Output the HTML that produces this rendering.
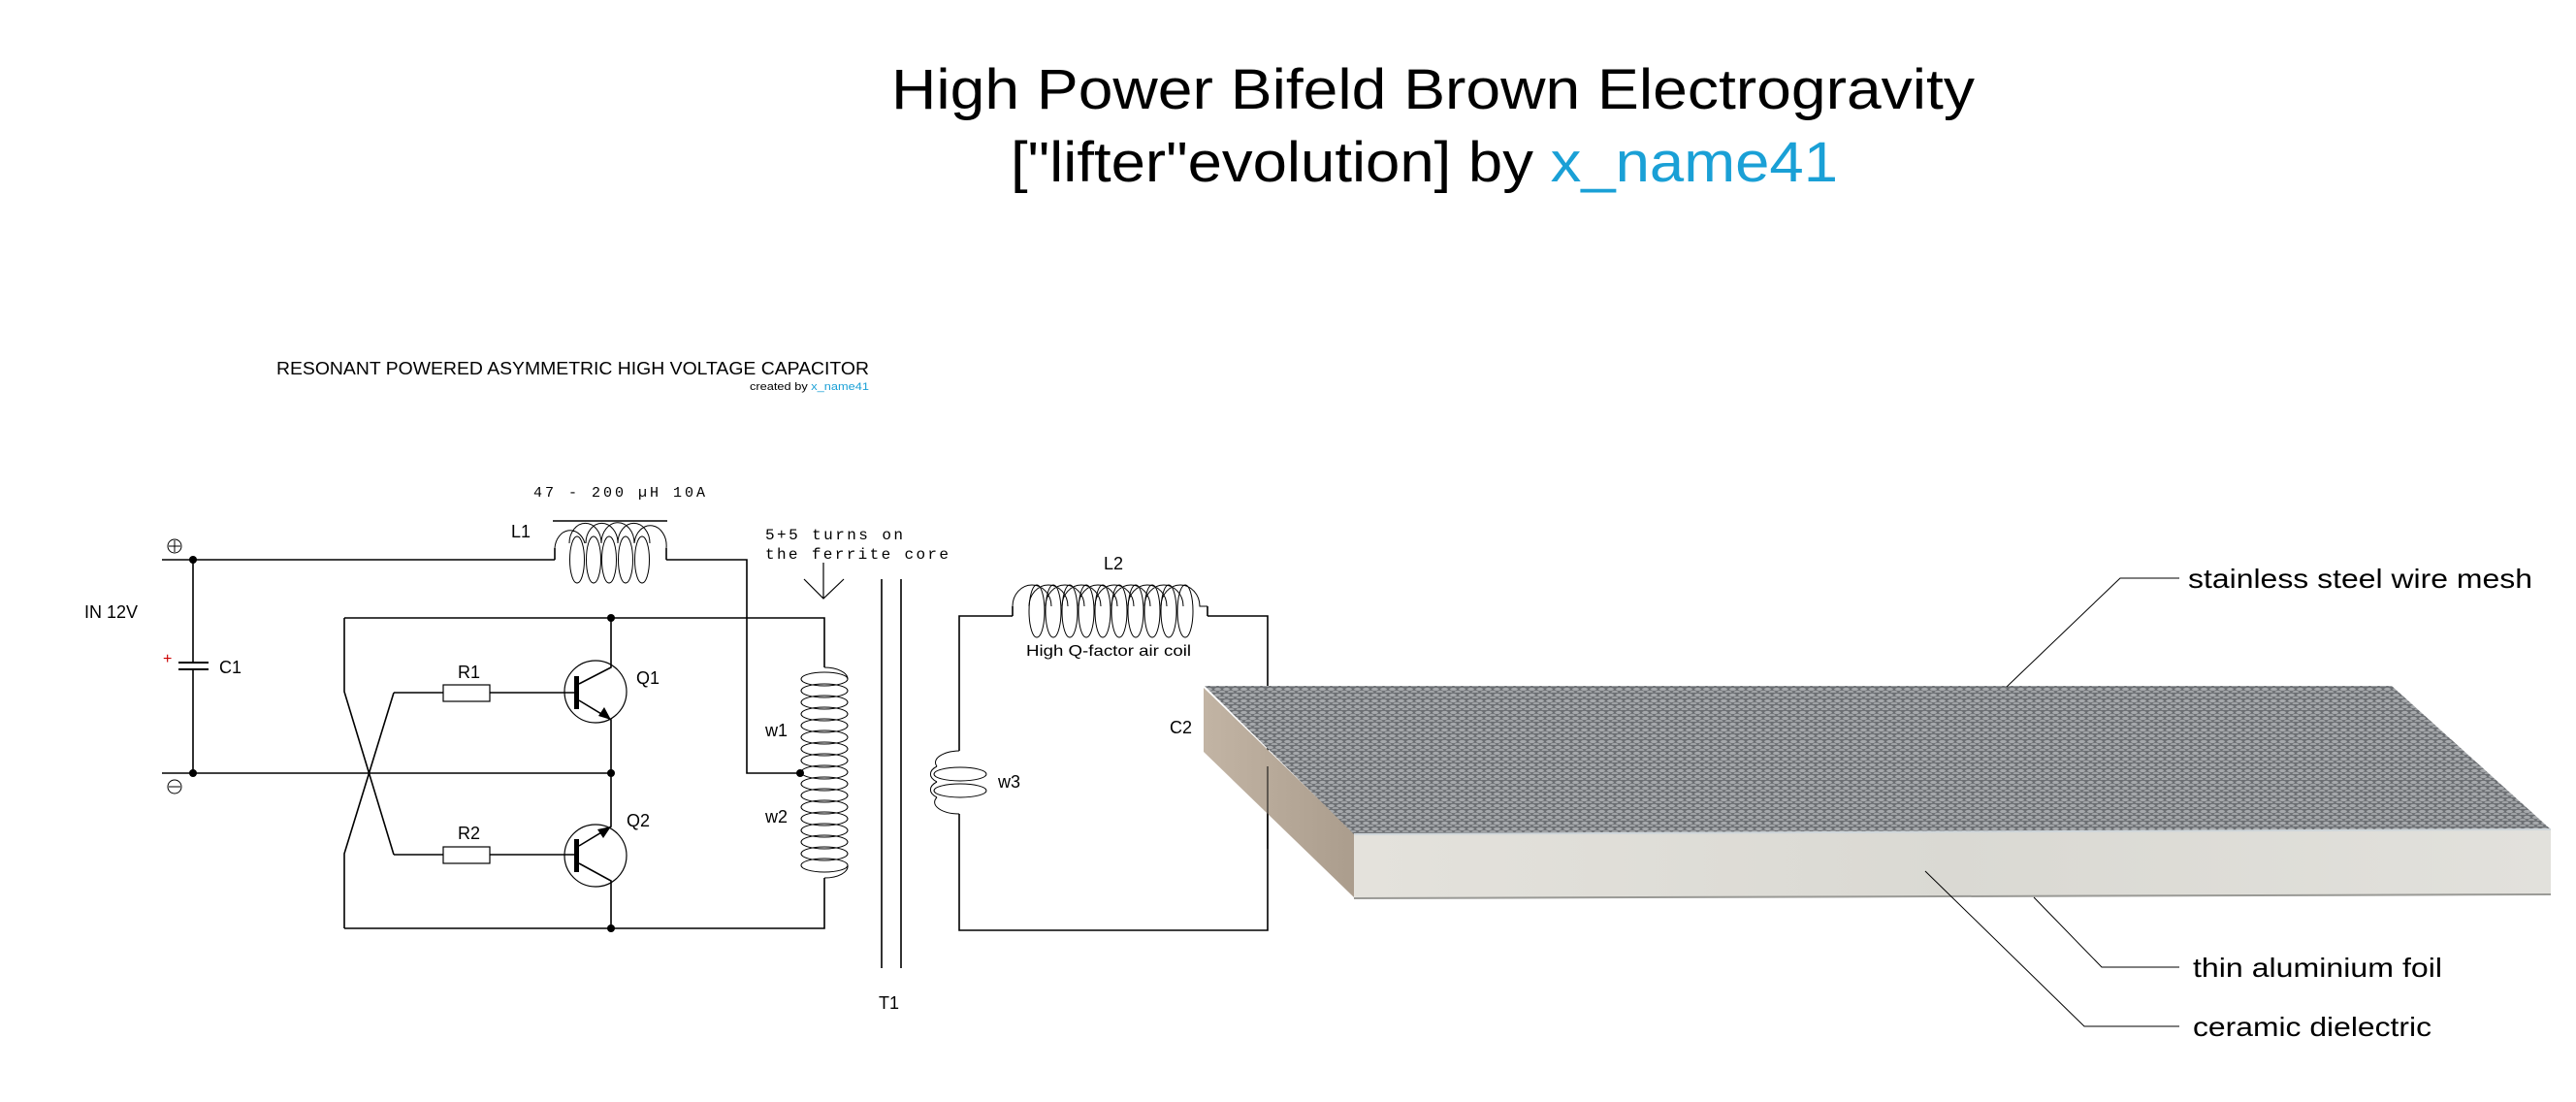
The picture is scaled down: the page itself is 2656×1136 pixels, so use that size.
<!DOCTYPE html>
<html><head><meta charset="utf-8"><style>
html,body{margin:0;padding:0;background:#fff}
svg{display:block}
text{font-family:"Liberation Sans",sans-serif}
.m{font-family:"Liberation Mono",monospace}
</style></head><body>
<svg width="2656" height="1136" viewBox="0 0 2656 1136" xmlns="http://www.w3.org/2000/svg">
<defs>
<pattern id="mesh" width="9" height="6" patternUnits="userSpaceOnUse">
<rect width="9" height="6" fill="#6c6f73"/>
<ellipse cx="4.5" cy="2.5" rx="3.4" ry="1.6" fill="#a6a9ac"/>
<ellipse cx="0" cy="5.5" rx="3.4" ry="1.6" fill="#a0a3a6"/>
<ellipse cx="9" cy="5.5" rx="3.4" ry="1.6" fill="#a0a3a6"/>
</pattern>
<linearGradient id="side" x1="0" y1="0" x2="1" y2="0"><stop offset="0" stop-color="#c2b4a4"/><stop offset="1" stop-color="#ab9d8d"/></linearGradient>
<linearGradient id="front" x1="0" y1="0" x2="1" y2="0"><stop offset="0" stop-color="#e4e2dc"/><stop offset="0.5" stop-color="#dad9d3"/><stop offset="1" stop-color="#e2e1dc"/></linearGradient>
</defs>

<text x="919" y="112" font-size="58" textLength="1117" lengthAdjust="spacingAndGlyphs">High Power Bifeld Brown Electrogravity</text>
<text x="1042" y="187" font-size="58" textLength="853" lengthAdjust="spacingAndGlyphs">["lifter"evolution] by <tspan fill="#1aa0d6">x_name41</tspan></text>

<text x="285" y="386" font-size="18" textLength="611" lengthAdjust="spacingAndGlyphs">RESONANT POWERED ASYMMETRIC HIGH VOLTAGE CAPACITOR</text>
<text x="773" y="402" font-size="11" textLength="123" lengthAdjust="spacingAndGlyphs">created by <tspan fill="#1aa0d6">x_name41</tspan></text>

<g fill="none" stroke="#000" stroke-width="1.6">
<path d="M167 577 H572 M687 577 H770 V797 H825"/>
<path d="M199 577 V683 M199 690 V797"/>
<path d="M167 797 H630"/>
<path d="M184 683 H215 M184 690 H215" stroke-width="2"/>
<path d="M572 577 V565"/><path d="M687 577 V565"/>
<path d="M572 565 A16 20 0 0 1 603 560 M587 560 A16 20 0 0 1 620 560 M604 560 A16 20 0 0 1 637 560 M620 560 A16 20 0 0 1 654 560 M637 560 A16 20 0 0 1 670 560 M654 560 A16 20 0 0 1 687 565" stroke-width="1"/>
<g stroke-width="1"><ellipse cx="595" cy="577" rx="7.5" ry="24"/><ellipse cx="612" cy="577" rx="7.5" ry="24"/><ellipse cx="628" cy="577" rx="7.5" ry="24"/><ellipse cx="645" cy="577" rx="7.5" ry="24"/><ellipse cx="662" cy="577" rx="7.5" ry="24"/></g>
<path d="M570 537 H688"/>
<path d="M355 637 H850 V688"/>
<path d="M355 957 H850 V905"/>
<path d="M355 637 V713 L406 881 M406 714 L355 880 V957"/>
<path d="M406 714 H457 M505 714 H594"/>
<path d="M406 881 H457 M505 881 H594"/>
<rect x="457" y="706" width="48" height="17" stroke-width="1.2"/>
<rect x="457" y="873" width="48" height="17" stroke-width="1.2"/>
<circle cx="614" cy="713" r="32" stroke-width="1.2"/>
<path d="M630 637 V688 L597 705 M597 722 L630 742 V797"/>
<circle cx="614" cy="882" r="32" stroke-width="1.2"/>
<path d="M630 797 V852 L597 872 M597 890 L630 908 V957"/>
<g stroke-width="1">
<ellipse cx="850" cy="700" rx="24" ry="7"/><ellipse cx="850" cy="712" rx="24" ry="7"/><ellipse cx="850" cy="724" rx="24" ry="7"/><ellipse cx="850" cy="736" rx="24" ry="7"/><ellipse cx="850" cy="748" rx="24" ry="7"/><ellipse cx="850" cy="760" rx="24" ry="7"/><ellipse cx="850" cy="772" rx="24" ry="7"/><ellipse cx="850" cy="784" rx="24" ry="7"/><ellipse cx="850" cy="796" rx="24" ry="7"/><ellipse cx="850" cy="808" rx="24" ry="7"/><ellipse cx="850" cy="820" rx="24" ry="7"/><ellipse cx="850" cy="832" rx="24" ry="7"/><ellipse cx="850" cy="844" rx="24" ry="7"/><ellipse cx="850" cy="856" rx="24" ry="7"/><ellipse cx="850" cy="868" rx="24" ry="7"/><ellipse cx="850" cy="880" rx="24" ry="7"/><ellipse cx="850" cy="892" rx="24" ry="7"/>
<path d="M850 688 A24 12 0 0 1 874 700 M874 892 A24 12 0 0 1 850 905"/>
</g>
<path d="M849 580 V617 M829 597 L849 617 L870 597" stroke-width="1.2"/>
<path d="M909 597 V998 M929 597 V998"/>
<path d="M1044 635 H989 V774 M989 839 V959 H1307 V635 H1245"/>
<path d="M1044 635 V625 M1245 635 V625"/>
<g stroke-width="1">
<path d="M1044 625 A20 22 0 0 1 1084 625 M1061 625 A20 22 0 0 1 1101 625 M1078 625 A20 22 0 0 1 1118 625 M1095 625 A20 22 0 0 1 1135 625 M1112 625 A20 22 0 0 1 1152 625 M1129 625 A20 22 0 0 1 1169 625 M1146 625 A20 22 0 0 1 1186 625 M1163 625 A20 22 0 0 1 1203 625 M1180 625 A20 22 0 0 1 1220 625 M1197 625 A20 22 0 0 1 1237 625 L1245 625"/>
<ellipse cx="1069" cy="630" rx="8" ry="27"/><ellipse cx="1086" cy="630" rx="8" ry="27"/><ellipse cx="1103" cy="630" rx="8" ry="27"/><ellipse cx="1120" cy="630" rx="8" ry="27"/><ellipse cx="1137" cy="630" rx="8" ry="27"/><ellipse cx="1154" cy="630" rx="8" ry="27"/><ellipse cx="1171" cy="630" rx="8" ry="27"/><ellipse cx="1188" cy="630" rx="8" ry="27"/><ellipse cx="1205" cy="630" rx="8" ry="27"/><ellipse cx="1222" cy="630" rx="8" ry="27"/>
<ellipse cx="990" cy="798" rx="27" ry="7"/><ellipse cx="990" cy="815" rx="27" ry="7"/>
<path d="M989 774 A26 12 0 0 0 966 790 M966 806 A26 12 0 0 0 966 822 M966 822 A26 12 0 0 0 989 839 M966 790 A26 12 0 0 0 966 806"/>
</g>
</g>
<rect x="592" y="697" width="5" height="34" fill="#000"/>
<rect x="592" y="865" width="5" height="34" fill="#000"/>
<path d="M630 742 L617 738 L623 729 Z" fill="#000"/>
<path d="M630 852 L622 864 L616 855 Z" fill="#000"/>
<g fill="#000"><circle cx="199" cy="577" r="4"/><circle cx="199" cy="797" r="4"/><circle cx="630" cy="637" r="4"/><circle cx="630" cy="797" r="4"/><circle cx="630" cy="957" r="4"/><circle cx="825" cy="797" r="4"/></g>
<g fill="none" stroke="#000" stroke-width="1"><circle cx="180" cy="563" r="7"/><path d="M174 563 H186 M180 557 V569"/><circle cx="180" cy="811" r="7"/><path d="M174 811 H186"/></g>
<text x="168" y="684" font-size="16" fill="#c00">+</text>

<g font-size="18">
<text x="87" y="637">IN 12V</text>
<text x="226" y="694">C1</text>
<text x="527" y="554">L1</text>
<text x="472" y="699">R1</text>
<text x="472" y="865">R2</text>
<text x="656" y="705">Q1</text>
<text x="646" y="852">Q2</text>
<text x="789" y="759">w1</text>
<text x="789" y="848">w2</text>
<text x="906" y="1040">T1</text>
<text x="1138" y="587">L2</text>
<text x="1206" y="756">C2</text>
<text x="1029" y="812">w3</text>
</g>
<text x="1058" y="676" font-size="16" textLength="170" lengthAdjust="spacingAndGlyphs">High Q-factor air coil</text>
<text class="m" x="550" y="512" font-size="15" textLength="177" lengthAdjust="spacing">47 - 200 µH 10A</text>
<text class="m" x="789" y="556" font-size="16" textLength="142" lengthAdjust="spacing">5+5 turns on</text>
<text class="m" x="789" y="576" font-size="16" textLength="189" lengthAdjust="spacing">the ferrite core</text>

<polygon points="1241,709 1396,859 1396,925 1241,775" fill="url(#side)"/>
<polygon points="1396,860 2630,855 2630,922 1396,926" fill="url(#front)"/>
<path d="M1396 926 L2630 922" stroke="#9a9a96" stroke-width="2"/>
<polygon points="1242,707 2466,707 2630,855 1396,860" fill="url(#mesh)"/>
<path d="M1396 860 L2630 855" stroke="#cfd6da" stroke-width="2"/>
<path d="M1307 790 V875" stroke="#000" stroke-width="1.6" opacity="0.6"/>

<g fill="none" stroke="#000" stroke-width="1">
<path d="M2069 708 L2186 596 H2247"/>
<path d="M2097 925 L2167 997 H2247"/>
<path d="M1985 898 L2149 1058 H2247"/>
</g>
<g font-size="28">
<text x="2256" y="606" textLength="355" lengthAdjust="spacingAndGlyphs">stainless steel wire mesh</text>
<text x="2261" y="1007" textLength="257" lengthAdjust="spacingAndGlyphs">thin aluminium foil</text>
<text x="2261" y="1068" textLength="246" lengthAdjust="spacingAndGlyphs">ceramic dielectric</text>
</g>
</svg>
</body></html>
